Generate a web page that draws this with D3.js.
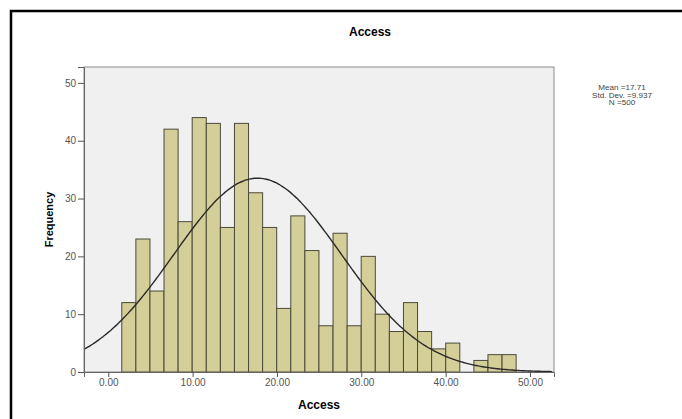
<!DOCTYPE html>
<html><head><meta charset="utf-8">
<script src="https://cdn.jsdelivr.net/npm/d3@7"></script>
<style>body{margin:0;background:#fff}svg{display:block}</style>
</head><body>
<svg id="c" width="682" height="419"></svg>
<script>
const binStart = 1.6;
const binWidth = 1.67;
const counts = [12,23,14,42,26,44,43,25,43,31,25,11,27,21,8,24,8,20,10,7,12,7,4,5,0,2,3,3];
const xTicks = [0,10,20,30,40,50];
const yTicks = [0,10,20,30,40,50];
const statLines = ["Mean =17.71","Std. Dev. =9.937","N =500"];
const mean = 17.71, sd = 9.937, n = 500;

const svg = d3.select("#c");
const L = 84, R = 554, T = 67, B = 372;
const x = d3.scaleLinear().domain([-2.88, 52.85]).range([L, R]);
const y = d3.scaleLinear().domain([0, 52.75]).range([B, T]);

// outer frame
svg.append("rect").attr("x",11).attr("y",11).attr("width",700).attr("height",420)
  .attr("fill","none").attr("stroke","#000").attr("stroke-width",2.5);

// plot background
svg.append("rect").attr("x",L).attr("y",T).attr("width",R-L).attr("height",B-T)
  .attr("fill","#f0f0f0").attr("stroke","#8a8a8a").attr("stroke-width",1);

// bars
svg.append("g").selectAll("rect").data(counts).join("rect")
  .attr("x",(d,i)=>x(binStart+i*binWidth))
  .attr("width",(d,i)=>x(binStart+(i+1)*binWidth)-x(binStart+i*binWidth))
  .attr("y",d=>y(d)).attr("height",d=>y(0)-y(d))
  .attr("fill",d=>d>0?"#d4cf99":"none").attr("stroke",d=>d>0?"#4a4a3a":"none").attr("stroke-width",1);

// normal curve
const dens = v => n*binWidth/(sd*Math.sqrt(2*Math.PI))*Math.exp(-0.5*((v-mean)/sd)**2);
const pts = d3.range(-2.88, 52.85, 0.25).map(v=>[v,dens(v)]);
svg.append("path").datum(pts)
  .attr("d", d3.line().x(d=>x(d[0])).y(d=>y(d[1])).curve(d3.curveBasis))
  .attr("fill","none").attr("stroke","#2a2a2a").attr("stroke-width",1.4);

// axes
const xa = svg.append("g").attr("transform",`translate(0,${B})`)
  .call(d3.axisBottom(x).tickValues(xTicks).tickFormat(d3.format(".2f")).tickSize(5).tickPadding(2));
xa.select(".domain").attr("stroke","#666");
xa.selectAll(".tick line").attr("stroke","#555");
xa.selectAll("text").attr("font-family","Arial, Liberation Sans, sans-serif").attr("font-size",10).attr("fill","#555");

const ya = svg.append("g").attr("transform",`translate(${L},0)`)
  .call(d3.axisLeft(y).tickValues(yTicks).tickSize(6).tickPadding(2));
ya.select(".domain").attr("stroke","#666");
ya.selectAll(".tick line").attr("stroke","#555");
ya.selectAll("text").attr("font-family","Arial, Liberation Sans, sans-serif").attr("font-size",10).attr("fill","#555");

// titles
svg.append("text").attr("x",370).attr("y",36).attr("text-anchor","middle")
  .attr("font-family","Arial, Liberation Sans, sans-serif").attr("font-size",12).attr("font-weight","bold").text("Access");
svg.append("text").attr("x",(L+R)/2).attr("y",409).attr("text-anchor","middle")
  .attr("font-family","Arial, Liberation Sans, sans-serif").attr("font-size",12).attr("font-weight","bold").text("Access");
svg.append("text").attr("transform",`translate(53,${(T+B)/2}) rotate(-90)`).attr("text-anchor","middle")
  .attr("font-family","Arial, Liberation Sans, sans-serif").attr("font-size",11).attr("font-weight","bold").text("Frequency");

// stats
svg.append("g").attr("transform","translate(622,0) scale(1.25,1)")
  .selectAll("text").data(statLines).join("text")
  .attr("x",0).attr("y",(d,i)=>90.5+i*7.5).attr("text-anchor","middle")
  .attr("font-family","Arial, Liberation Sans, sans-serif").attr("font-size",6.5).attr("fill","#444")
  .text(d=>d);
</script>
</body></html>
